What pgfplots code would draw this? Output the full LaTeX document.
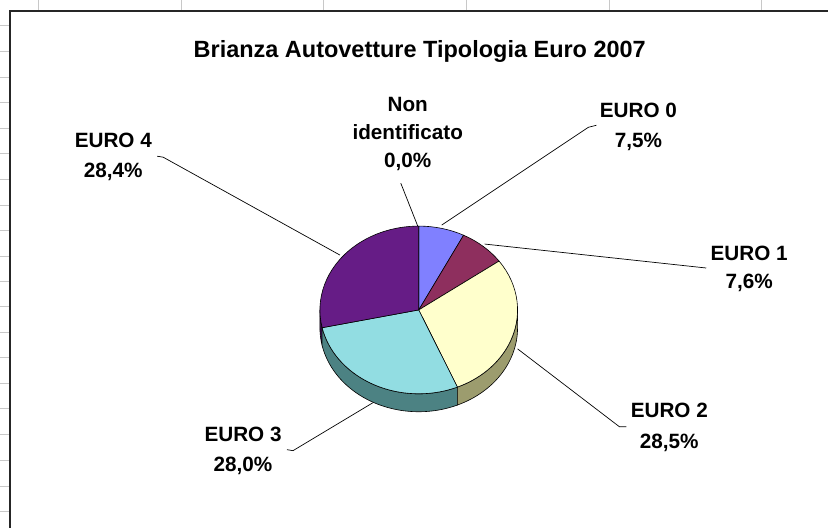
\documentclass[border=0pt]{standalone}
\usepackage{pgfplots}
\usepackage{pgfplotstable}
\pgfplotsset{compat=1.18}
\usepackage{fontspec}
\setmainfont{Liberation Sans}

\definecolor{cBlue}{HTML}{8080FF}
\definecolor{cMaroon}{HTML}{8E2F5E}
\definecolor{cYellow}{HTML}{FFFFCC}
\definecolor{cCyan}{HTML}{92DDE2}
\definecolor{cPurple}{HTML}{661C86}
\definecolor{sYellow}{HTML}{9C9C6E}
\definecolor{sCyan}{HTML}{4C8283}
\definecolor{sPurple}{HTML}{3A0F4F}
\definecolor{gridgray}{HTML}{C8C8C8}

% share of each type (%), clockwise from 12 o'clock
\pgfplotstableread{
value
0.0
7.5
7.6
28.5
28.0
28.4
}\piedata

\newcommand{\slicetop}[3]{%
  \filldraw[fill=#3, draw=black, line width=0.6bp] (axis cs:419,218) -- (axis cs:{419+99*cos(#1)},{218+84*sin(#1)}) arc[start angle=#1, end angle=#2, x radius=99, y radius=84] -- cycle;}
\newcommand{\sidepiece}[3]{%
  \filldraw[fill=#3, draw=black, line width=0.6bp] (axis cs:{419+99*cos(#1)},{218+84*sin(#1)}) arc[start angle=#1, end angle=#2, x radius=99, y radius=84] -- (axis cs:{419+99*cos(#2)},{200+84*sin(#2)}) arc[start angle=#2, end angle=#1, x radius=99, y radius=84] -- cycle;}
\newcommand{\lab}[3]{\node[anchor=base, inner sep=0pt, font=\fontsize{20.8}{24}\selectfont\bfseries] at (axis cs:#1,#2) {#3};}

\begin{document}
\begin{tikzpicture}
\pgfplotstablegetelem{0}{value}\of\piedata\let\vN\pgfplotsretval
\pgfplotstablegetelem{1}{value}\of\piedata\let\vA\pgfplotsretval
\pgfplotstablegetelem{2}{value}\of\piedata\let\vB\pgfplotsretval
\pgfplotstablegetelem{3}{value}\of\piedata\let\vC\pgfplotsretval
\pgfplotstablegetelem{4}{value}\of\piedata\let\vD\pgfplotsretval
\pgfplotstablegetelem{5}{value}\of\piedata\let\vE\pgfplotsretval
\pgfmathsetmacro\aN{90-3.6*\vN}
\pgfmathsetmacro\aA{\aN-3.6*\vA}
\pgfmathsetmacro\aB{\aA-3.6*\vB}
\pgfmathsetmacro\aC{\aB-3.6*\vC}
\pgfmathsetmacro\aD{\aC-3.6*\vD}
\pgfmathsetmacro\aE{\aD-3.6*\vE}
\begin{axis}[x=1bp, y=1bp, xmin=0, xmax=829, ymin=0, ymax=528,
  hide axis, clip=false]
% background
\fill[white] (axis cs:0,0) rectangle (axis cs:829,528);
% spreadsheet grid
\pgfplotsinvokeforeach{38,181,324,467,610,762}{
  \draw[gridgray, line width=1bp] (axis cs:#1,517) -- (axis cs:#1,528);}
\pgfplotsinvokeforeach{25,51,77,102,128,153,179,205,230,256,282,307,333,358,384,409,435,461,487,512}{
  \draw[gridgray, line width=1bp] (axis cs:0,528-#1) -- (axis cs:10,528-#1);}
% chart border
\draw[black!85, line width=2bp] (axis cs:10,0) -- (axis cs:10,517) -- (axis cs:829,517);
% title
\node[anchor=base, inner sep=0pt, font=\fontsize{23.6}{28}\selectfont\bfseries] at (axis cs:420,471) {Brianza Autovetture Tipologia Euro 2007};
% pie sides
\sidepiece{-180}{\aD}{sPurple}
\sidepiece{\aD}{\aC}{sCyan}
\sidepiece{\aC}{0}{sYellow}
% pie top
\slicetop{\aN}{\aA}{cBlue}
\slicetop{\aA}{\aB}{cMaroon}
\slicetop{\aB}{\aC}{cYellow}
\slicetop{\aC}{\aD}{cCyan}
\slicetop{\aD}{\aE}{cPurple}
% leader lines
\draw[black, line width=0.7bp] (axis cs:401,345) -- (axis cs:418,302);
\draw[black, line width=0.7bp] (axis cs:597,403) -- (axis cs:589,401) -- (axis cs:442,303);
\draw[black, line width=0.7bp] (axis cs:707,260) -- (axis cs:485,284);
\draw[black, line width=0.7bp] (axis cs:627,101) -- (axis cs:620,101) -- (axis cs:518,179);
\draw[black, line width=0.7bp] (axis cs:287,78) -- (axis cs:293,77) -- (axis cs:373,125);
\draw[black, line width=0.7bp] (axis cs:157,372) -- (axis cs:163,371) -- (axis cs:340,273);
% labels
\lab{408}{417}{Non}
\lab{408}{389}{identificato}
\lab{408}{361}{0,0\%}
\lab{639}{411}{EURO 0}
\lab{639}{381}{7,5\%}
\lab{750}{268}{EURO 1}
\lab{750}{239}{7,6\%}
\lab{670}{110}{EURO 2}
\lab{670}{79}{28,5\%}
\lab{243}{86}{EURO 3}
\lab{243}{56}{28,0\%}
\lab{113}{381}{EURO 4}
\lab{113}{351}{28,4\%}
\end{axis}
\end{tikzpicture}
\end{document}
